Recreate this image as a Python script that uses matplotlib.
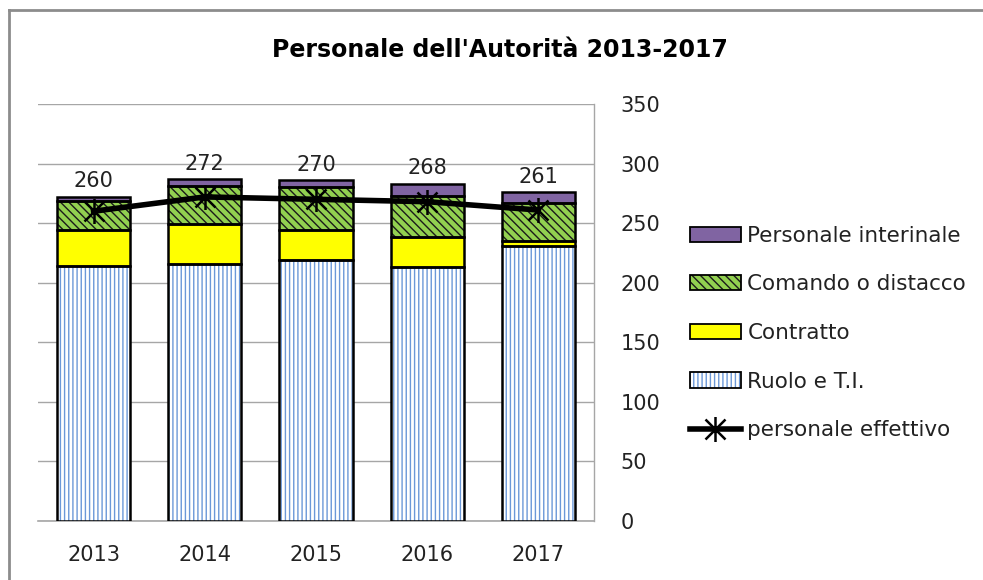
import matplotlib
matplotlib.use("Agg")
import matplotlib.pyplot as plt
import numpy as np
from matplotlib.path import Path
from matplotlib.lines import Line2D
from matplotlib.patches import Patch

years = ["2013", "2014", "2015", "2016", "2017"]
ruolo = [214, 216, 219, 213, 231]
contratto = [30, 33, 25, 25, 4]
comando = [25, 32, 36, 35, 32]
interinale = [3, 6, 6, 10, 9]
effettivo = [260, 272, 270, 268, 261]

plt.rcParams['font.family'] = ['DejaVu Sans']
plt.rcParams['hatch.linewidth'] = 1.0

fig = plt.figure(figsize=(9.83, 5.80), dpi=100)
ax = fig.add_axes([38/983, 1-521/580, (594-38)/983, (521-104)/580])

x = np.arange(len(years))
w = 0.66
FS = 15

# star (asterisk) marker: vertical line + X
star = Path([(0, -1), (0, 1), (-0.8, -0.8), (0.8, 0.8), (-0.8, 0.8), (0.8, -0.8)],
            [Path.MOVETO, Path.LINETO, Path.MOVETO, Path.LINETO, Path.MOVETO, Path.LINETO])

BLUE = '#6b98d8'
bottoms = np.zeros(len(years))
series = [
    (ruolo, 'white', BLUE, '||||'),
    (contratto, '#ffff00', None, None),
    (comando, '#92d050', '#1a1a1a', '\\\\\\\\'),
    (interinale, '#8064a2', None, None),
]
for vals, fc, hc, hatch in series:
    vals = np.array(vals, dtype=float)
    if hatch:
        ax.bar(x, vals, w, bottom=bottoms, color=fc, edgecolor=hc, hatch=hatch, linewidth=0, zorder=2)
    else:
        ax.bar(x, vals, w, bottom=bottoms, color=fc, linewidth=0, zorder=2)
    ax.bar(x, vals, w, bottom=bottoms, facecolor='none', edgecolor='black', linewidth=1.8, zorder=3)
    bottoms = bottoms + vals

ax.plot(x, effettivo, color='black', lw=4, marker=star, markersize=18,
        markeredgewidth=1.8, zorder=5)

for xi, tot, ev in zip(x, bottoms, effettivo):
    ax.annotate(str(ev), (xi, tot), xytext=(0, 4), textcoords='offset points',
                ha='center', va='bottom', fontsize=FS, color='#222222')

ax.set_xlim(-0.5, 4.5)
ax.set_ylim(0, 350)
ax.set_yticks(range(0, 351, 50))
ax.yaxis.tick_right()
ax.set_xticks(x)
ax.set_xticklabels(years)
ax.tick_params(axis='both', length=0, labelsize=FS, colors='#222222')
ax.tick_params(axis='y', pad=19)
ax.tick_params(axis='x', pad=17)
ax.grid(axis='y', color='#a6a6a6', lw=1, zorder=0)
ax.set_axisbelow(True)
for s in ['left', 'top']:
    ax.spines[s].set_visible(False)
ax.spines['bottom'].set_color('#a6a6a6')
ax.spines['bottom'].set_linewidth(1.2)
ax.spines['bottom'].set_zorder(1)
ax.spines['right'].set_color('#a6a6a6')
ax.spines['right'].set_linewidth(1)
ax.set_facecolor('none')

fig.text(500/983, 1-50/580, "Personale dell'Autorità 2013-2017", ha='center', va='center',
         fontsize=17, fontweight='bold', color='black')

border = dict(facecolor='none', edgecolor='black', linewidth=1.3)
handles = [
    Patch(facecolor='#8064a2', edgecolor='black', linewidth=1.3),
    (Patch(facecolor='#92d050', edgecolor='#1a1a1a', hatch='\\\\\\\\', linewidth=0), Patch(**border)),
    Patch(facecolor='#ffff00', edgecolor='black', linewidth=1.3),
    (Patch(facecolor='white', edgecolor=BLUE, hatch='||||', linewidth=0), Patch(**border)),
    Line2D([], [], color='black', lw=4, marker=star, markersize=18, markeredgewidth=1.8),
]
labels = ["Personale interinale", "Comando o distacco", "Contratto", "Ruolo e T.I.", "personale effettivo"]
leg = fig.legend(handles, labels, loc='upper left', bbox_to_anchor=(681/983, 1-217/580),
                 frameon=False, fontsize=15.5, handlelength=2.4, handletextpad=0.28,
                 labelspacing=1.33, borderaxespad=0)
for t in leg.get_texts():
    t.set_color('#222222')

# outer chart frame (left and top edges visible)
fig.add_artist(Line2D([9/983, 9/983], [0, 1-10/580], transform=fig.transFigure, color='#8c8c8c', lw=2))
fig.add_artist(Line2D([9/983, 1], [1-10/580, 1-10/580], transform=fig.transFigure, color='#8c8c8c', lw=2))

fig.savefig("out.png", dpi=100)
